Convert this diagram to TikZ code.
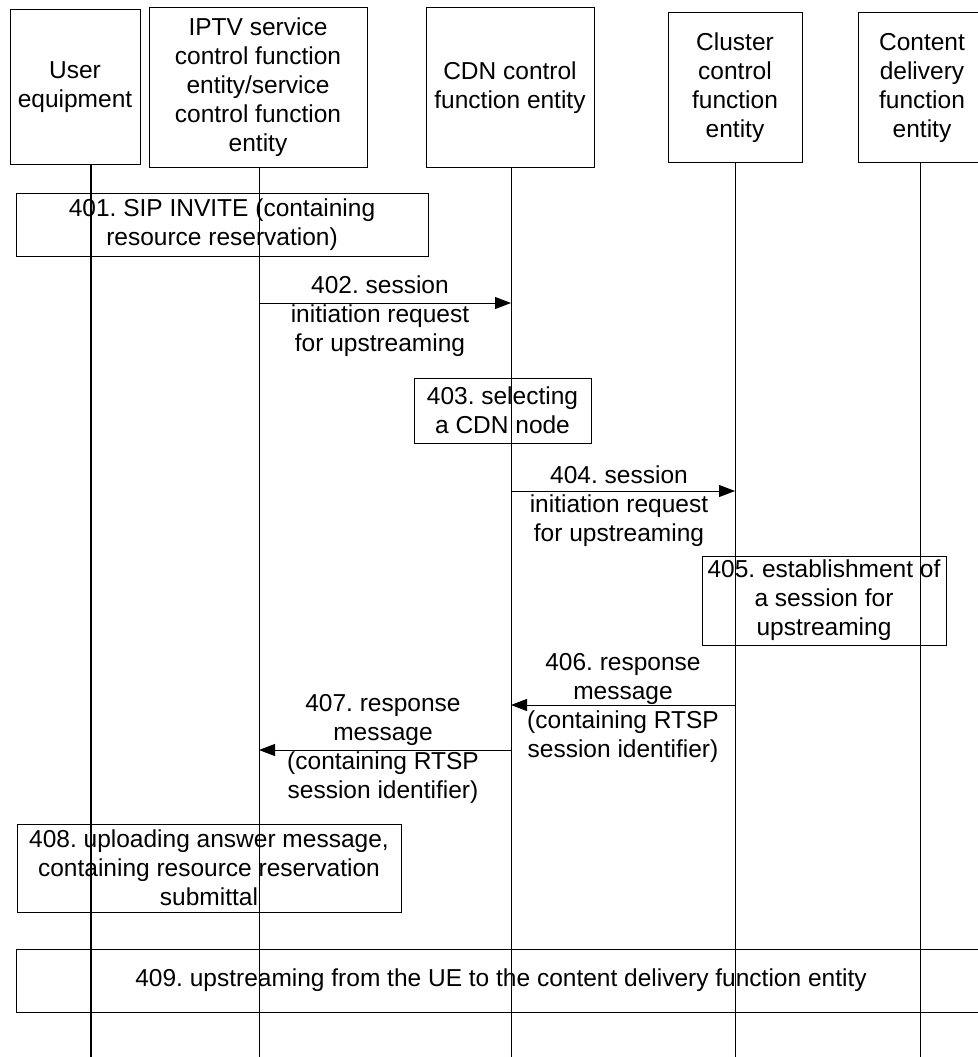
\documentclass[tikz,border=0pt]{standalone}
\usepackage{fontspec}
\setmainfont{Liberation Sans}
\frenchspacing
\usetikzlibrary{arrows.meta}

\begin{document}
\begin{tikzpicture}[x=1pt,y=-1pt,
  every node/.style={font=\fontsize{24.5}{29}\selectfont, align=center, inner sep=0pt},
  head/.style={draw, line width=1pt},
  stepbox/.style={draw, line width=1pt},
  life/.style={line width=0.9pt},
  msg/.style={line width=0.9pt, -{Triangle[length=16pt,width=12pt]}}]
  \useasboundingbox (0,0) rectangle (977,1057);

  % entities
  \node[head, minimum width=130pt, minimum height=154pt] (ue) at (75,87) {User\\equipment};
  \node[head, minimum width=218pt, minimum height=159pt] (iptv) at (258,87.5) {IPTV service\\control function\\entity/service\\control function\\entity};
  \node[head, minimum width=168pt, minimum height=159pt] (cdn) at (510,87.5) {CDN control\\function entity};
  \node[head, minimum width=134pt, minimum height=149pt] (clu) at (735,87.5) {Cluster\\control\\function\\entity};
  \node[head, minimum width=128pt, minimum height=149pt] (cdf) at (922,87.5) {Content\\delivery\\function\\entity};

  % lifelines
  \coordinate (ue-end) at (91,1057);
  \coordinate (iptv-end) at (259,1057);
  \coordinate (cdn-end) at (511,1057);
  \coordinate (clu-end) at (735,1057);
  \coordinate (cdf-end) at (920,1057);
  \foreach \n in {iptv,cdn,clu,cdf}
    \draw[life] (\n.south -| \n-end) -- (\n-end);
  \draw[life, line width=1.3pt] (ue.south -| ue-end) -- (ue-end);

  % 401
  \node[stepbox, minimum width=412pt, minimum height=63pt] (s401) at (222,224.5) {401. SIP INVITE (containing\\resource reservation)};

  % 402
  \coordinate (m402) at (0,303);
  \draw[msg] (iptv-end |- m402) -- (cdn-end |- m402);
  \node (t402) at (380,316) {402. session\\initiation request\\for upstreaming};

  % 403
  \node[stepbox, minimum width=177pt, minimum height=65pt] (s403) at (502.5,410.5) {403. selecting\\a CDN node};

  % 404
  \coordinate (m404) at (0,491);
  \draw[msg] (cdn-end |- m404) -- (clu-end |- m404);
  \node (t404) at (619,506) {404. session\\initiation request\\for upstreaming};

  % 405
  \node[stepbox, minimum width=244pt, minimum height=89pt] (s405) at (824,600.5) {405. establishment of\\a session for\\upstreaming};

  % 406
  \coordinate (m406) at (0,705);
  \draw[msg] (clu-end |- m406) -- (cdn-end |- m406);
  \node (t406) at (623,708) {406. response\\message\\(containing RTSP\\session identifier)};

  % 407
  \coordinate (m407) at (0,750);
  \draw[msg] (cdn-end |- m407) -- (iptv-end |- m407);
  \node (t407) at (383,749) {407. response\\message\\(containing RTSP\\session identifier)};

  % 408
  \node[stepbox, minimum width=384pt, minimum height=88pt] (s408) at (209,868) {408. uploading answer message,\\containing resource reservation\\submittal};

  % 409
  \node[stepbox, minimum width=970pt, minimum height=63pt] (s409) at (501,980.5) {409. upstreaming from the UE to the content delivery function entity};
\end{tikzpicture}
\end{document}
